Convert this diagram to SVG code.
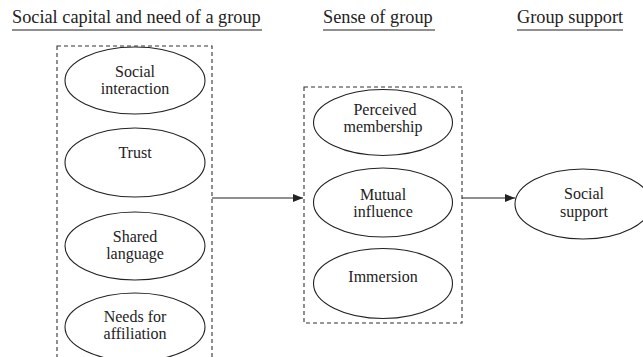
<svg xmlns="http://www.w3.org/2000/svg" width="643" height="357" viewBox="0 0 643 357">
<style>
.hdr{font-family:"Liberation Serif",serif;font-size:18.3px;fill:#222}
.ul{stroke:#222;stroke-width:1.2}
.box{fill:none;stroke:#333;stroke-width:1.1;stroke-dasharray:4 3}
.el{fill:#fff;stroke:#222;stroke-width:1.1}
.lbl{font-family:"Liberation Serif",serif;font-size:16px;fill:#222;text-anchor:middle}
.edge{stroke:#222;stroke-width:1.2;fill:none}
</style>
<defs>
<marker id="arr" markerWidth="10" markerHeight="8" refX="10" refY="4" orient="auto" markerUnits="userSpaceOnUse">
<path d="M0,0 L10,4 L0,8 z" fill="#222"/>
</marker>
</defs>
<rect width="643" height="357" fill="#fff"/>
<g id="headers">
<text class="hdr" x="12" y="23">Social capital and need of a group</text>
<line class="ul" x1="12" y1="30" x2="262" y2="30"/>
<text class="hdr" x="323" y="23">Sense of group</text>
<line class="ul" x1="323" y1="30" x2="435" y2="30"/>
<text class="hdr" x="517" y="23">Group support</text>
<line class="ul" x1="517" y1="30" x2="623" y2="30"/>
</g>
<g id="group-social-capital">
<rect class="box" x="57" y="46" width="155" height="330"/>
</g>
<g id="group-sense">
<rect class="box" x="304" y="87" width="158" height="236"/>
</g>
<g id="node-social-interaction">
<ellipse class="el" cx="135" cy="80.5" rx="70" ry="33.5"/>
<text class="lbl" x="135" y="77">Social</text>
<text class="lbl" x="135" y="93.5">interaction</text>
</g>
<g id="node-trust">
<ellipse class="el" cx="135" cy="162.5" rx="70" ry="34.5"/>
<text class="lbl" x="135" y="157.5">Trust</text>
</g>
<g id="node-shared-language">
<ellipse class="el" cx="135" cy="246" rx="70" ry="34"/>
<text class="lbl" x="135" y="242">Shared</text>
<text class="lbl" x="135" y="259">language</text>
</g>
<g id="node-needs-affiliation">
<ellipse class="el" cx="135" cy="327" rx="70" ry="34"/>
<text class="lbl" x="135" y="322">Needs for</text>
<text class="lbl" x="135" y="339">affiliation</text>
</g>
<g id="node-perceived-membership">
<ellipse class="el" cx="383" cy="122.5" rx="69.5" ry="33"/>
<text class="lbl" x="385" y="115">Perceived</text>
<text class="lbl" x="383" y="131.5">membership</text>
</g>
<g id="node-mutual-influence">
<ellipse class="el" cx="383" cy="202.5" rx="69.5" ry="34.5"/>
<text class="lbl" x="383" y="200">Mutual</text>
<text class="lbl" x="383" y="217">influence</text>
</g>
<g id="node-immersion">
<ellipse class="el" cx="383" cy="283.5" rx="69.5" ry="35"/>
<text class="lbl" x="383" y="281.5">Immersion</text>
</g>
<g id="node-social-support">
<ellipse class="el" cx="583" cy="204" rx="68" ry="35"/>
<text class="lbl" x="584" y="199">Social</text>
<text class="lbl" x="584" y="217">support</text>
</g>
<g id="connectors">
<line class="edge" x1="212" y1="198" x2="303" y2="198" marker-end="url(#arr)"/>
<line class="edge" x1="462" y1="198" x2="515" y2="198" marker-end="url(#arr)"/>
</g>
</svg>
